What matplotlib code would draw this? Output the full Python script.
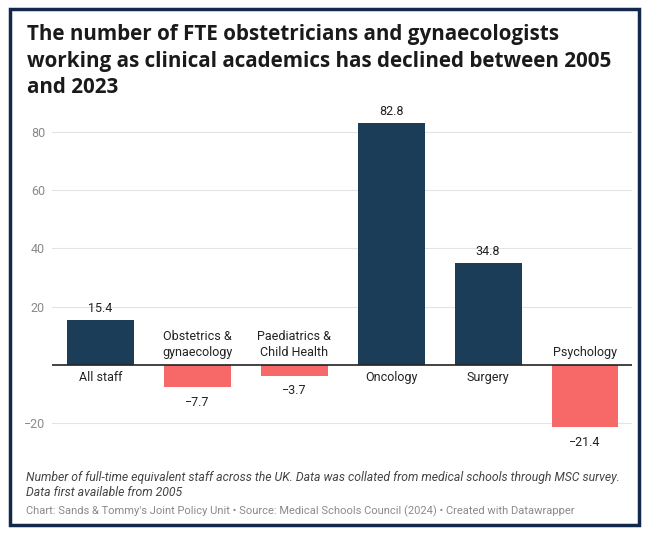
import matplotlib
matplotlib.use("Agg")
import matplotlib.pyplot as plt
from matplotlib.patches import Rectangle

categories = ["All staff", "Obstetrics &\ngynaecology", "Paediatrics &\nChild Health",
              "Oncology", "Surgery", "Psychology"]
values = [15.4, -7.7, -3.7, 82.8, 34.8, -21.4]
value_labels = ["15.4", "\u22127.7", "\u22123.7", "82.8", "34.8", "\u221221.4"]
yticks = [-20, 20, 40, 60, 80]
ytick_labels = ["\u221220", "20", "40", "60", "80"]

NAVY = "#1c3d57"
RED = "#f76868"

W, H = 647, 534
fig = plt.figure(figsize=(W / 100, H / 100), dpi=100)
fig.patch.set_facecolor("white")

# frame
fig.patches.append(Rectangle((9.5 / W, 1 - 525 / H), 629 / W, 516 / H, transform=fig.transFigure,
                             fill=False, edgecolor="#13294b", linewidth=2.5))

# axes geometry (pixels)
ax_left, ax_right = 52, 632
ax_top, ax_bottom = 100, 432
ax = fig.add_axes([ax_left / W, 1 - ax_bottom / H, (ax_right - ax_left) / W, (ax_bottom - ax_top) / H])
ax.set_xlim(-0.50, 5.485)
ppu = 2.917
zero_px = 365
ax.set_ylim(-(ax_bottom - zero_px) / ppu, (zero_px - ax_top) / ppu)

x = list(range(len(categories)))
colors = [NAVY if v >= 0 else RED for v in values]
ax.bar(x, values, width=0.69, color=colors, zorder=3)

for t in yticks:
    ax.axhline(t, color="#e3e3e3", linewidth=0.8, zorder=1)
ax.axhline(0, color="#222222", linewidth=1.2, zorder=4)

ax.set_yticks(yticks)
ax.set_yticklabels(ytick_labels, fontfamily="Roboto", fontsize=9, color="#8a8a8a")
ax.tick_params(axis="y", length=0, pad=5)
ax.set_xticks([])
for s in ax.spines.values():
    s.set_visible(False)

for xi, v, vl, c in zip(x, values, value_labels, categories):
    if v >= 0:
        ax.annotate(vl, (xi, v), xytext=(0, 4), textcoords="offset points", ha="center", va="bottom",
                    fontfamily="Roboto", fontsize=9, color="#222222")
        ax.annotate(c, (xi, 0), xytext=(0, -4), textcoords="offset points", ha="center", va="top",
                    fontfamily="Roboto", fontsize=9, color="#222222", linespacing=1.3)
    else:
        ax.annotate(vl, (xi, v), xytext=(0, -6), textcoords="offset points", ha="center", va="top",
                    fontfamily="Roboto", fontsize=9, color="#222222")
        ax.annotate(c, (xi, 0), xytext=(0, 4), textcoords="offset points", ha="center", va="bottom",
                    fontfamily="Roboto", fontsize=9, color="#222222", linespacing=1.3)

fig.text(27 / W, 1 - 24 / H,
         "The number of FTE obstetricians and gynaecologists\nworking as clinical academics has declined between 2005\nand 2023",
         ha="left", va="top", fontfamily="Open Sans", fontweight="bold", fontsize=14.9,
         color="#1a1a1a", linespacing=1.35)

fig.text(26 / W, 1 - 485 / H,
         "Number of full-time equivalent staff across the UK. Data was collated from medical schools through MSC survey.\nData first available from 2005",
         ha="left", va="center", fontfamily="Roboto", fontstyle="italic", fontsize=8.8,
         color="#444444", linespacing=1.15)
fig.text(26 / W, 1 - 511 / H,
         "Chart: Sands & Tommy's Joint Policy Unit \u2022 Source: Medical Schools Council (2024) \u2022 Created with Datawrapper",
         ha="left", va="center", fontfamily="Roboto", fontsize=8.0, color="#8a8a8a")

fig.savefig("out.png", dpi=100, facecolor="white")
